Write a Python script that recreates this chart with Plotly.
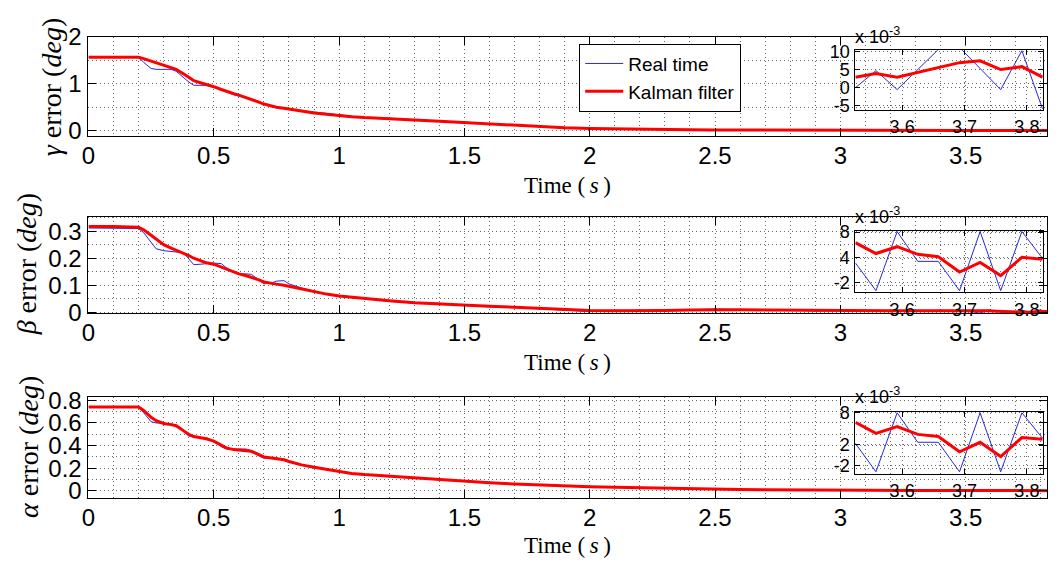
import plotly.graph_objects as go

W, H = 1060, 571

# ---------------- data ----------------
t_main = [0, 0.1, 0.2, 0.22, 0.25, 0.27, 0.3, 0.33, 0.35, 0.38, 0.4, 0.42, 0.45, 0.47, 0.5,
          0.53, 0.55, 0.58, 0.6, 0.63, 0.65, 0.68, 0.7, 0.73, 0.75, 0.78, 0.8, 0.85, 0.9, 0.95,
          1.0, 1.05, 1.1, 1.2, 1.3, 1.4, 1.5, 1.6, 1.7, 1.8, 1.9, 2.0, 2.1, 2.2, 2.3, 2.4, 2.5,
          2.6, 2.7, 2.8, 2.9, 3.0, 3.1, 3.2, 3.3, 3.4, 3.5]

gamma_kf = [1.57, 1.57, 1.57, 1.54, 1.49, 1.45, 1.40, 1.35, 1.31, 1.21, 1.13, 1.07, 1.02, 0.99, 0.94,
            0.88, 0.84, 0.79, 0.76, 0.71, 0.67, 0.61, 0.57, 0.53, 0.50, 0.48, 0.46, 0.42, 0.38, 0.35,
            0.32, 0.30, 0.28, 0.26, 0.23, 0.20, 0.17, 0.14, 0.11, 0.085, 0.065, 0.05, 0.04, 0.032,
            0.026, 0.021, 0.017, 0.014, 0.012, 0.010, 0.009, 0.008, 0.007, 0.006, 0.005, 0.004, 0.003]
gamma_real = [1.57, 1.57, 1.57, 1.46, 1.33, 1.31, 1.31, 1.31, 1.27, 1.13, 1.04, 0.97, 0.97, 0.97, 0.93,
              0.87, 0.82, 0.77, 0.74, 0.71, 0.68, 0.62, 0.57, 0.52, 0.50, 0.49, 0.47, 0.43, 0.40, 0.37,
              0.33, 0.30, 0.28, 0.265, 0.235, 0.20, 0.17, 0.14, 0.11, 0.085, 0.065, 0.05, 0.04, 0.032,
              0.026, 0.021, 0.017, 0.014, 0.012, 0.010, 0.009, 0.008, 0.007, 0.006, 0.005, 0.004, 0.003]

beta_kf = [0.318, 0.318, 0.315, 0.305, 0.285, 0.27, 0.25, 0.237, 0.23, 0.218, 0.21, 0.20, 0.19, 0.183,
           0.178, 0.168, 0.16, 0.15, 0.142, 0.135, 0.13, 0.12, 0.112, 0.106, 0.104, 0.10, 0.096, 0.085,
           0.075, 0.067, 0.06, 0.055, 0.05, 0.042, 0.035, 0.03, 0.026, 0.022, 0.018, 0.014, 0.010,
           0.006, 0.005, 0.005, 0.006, 0.008, 0.009, 0.009, 0.008, 0.007, 0.006, 0.005, 0.005, 0.005,
           0.005, 0.0055, 0.006]
beta_real = [0.312, 0.312, 0.31, 0.295, 0.26, 0.235, 0.228, 0.226, 0.224, 0.22, 0.198, 0.176, 0.178,
             0.18, 0.182, 0.18, 0.165, 0.148, 0.142, 0.142, 0.14, 0.12, 0.105, 0.108, 0.115, 0.117,
             0.105, 0.09, 0.078, 0.066, 0.062, 0.056, 0.052, 0.04, 0.036, 0.033, 0.025, 0.02, 0.018,
             0.012, 0.008, 0.002, 0.004, 0.004, 0.01, 0.009, 0.012, 0.01, 0.006, 0.008, 0.004, 0.006,
             0.004, 0.006, 0.003, 0.007, 0.004]

alpha_kf = [0.74, 0.74, 0.74, 0.71, 0.65, 0.62, 0.595, 0.585, 0.575, 0.53, 0.50, 0.48, 0.47, 0.46, 0.44,
            0.40, 0.38, 0.365, 0.36, 0.355, 0.35, 0.32, 0.30, 0.29, 0.285, 0.275, 0.26, 0.23, 0.21,
            0.19, 0.17, 0.155, 0.145, 0.13, 0.115, 0.10, 0.085, 0.072, 0.062, 0.052, 0.045, 0.038,
            0.032, 0.027, 0.023, 0.019, 0.016, 0.013, 0.011, 0.009, 0.008, 0.007, 0.006, 0.0055,
            0.005, 0.005, 0.005]
alpha_real = [0.74, 0.74, 0.74, 0.69, 0.61, 0.60, 0.595, 0.59, 0.58, 0.52, 0.485, 0.475, 0.475, 0.47,
              0.44, 0.39, 0.37, 0.365, 0.37, 0.37, 0.355, 0.31, 0.29, 0.29, 0.29, 0.28, 0.265, 0.23,
              0.215, 0.19, 0.17, 0.155, 0.145, 0.13, 0.115, 0.10, 0.085, 0.072, 0.062, 0.052, 0.045,
              0.038, 0.032, 0.027, 0.023, 0.019, 0.016, 0.013, 0.011, 0.009, 0.008, 0.007, 0.006,
              0.0055, 0.005, 0.005, 0.005]

# last samples (shown magnified in the insets, units of 1e-3 deg)
t_tail = [3.525, 3.558, 3.592, 3.625, 3.658, 3.692, 3.725, 3.758, 3.792, 3.825]
gamma_kf_tail = [2.9, 3.9, 2.9, 4.2, 5.6, 6.9, 7.4, 5.0, 5.8, 2.9]
gamma_real_tail = [0.0, 4.7, -0.5, 4.9, 10.5, 11.1, 5.3, -0.5, 10.2, -5.8]
beta_kf_tail = [5.9, 3.75, 5.1, 3.6, 3.1, 0.1, 2.0, -0.6, 3.0, 2.6]
beta_real_tail = [1.9, -3.6, 8.1, 2.2, 2.2, -3.6, 8.1, -3.6, 8.1, 2.8]
alpha_kf_tail = [6.2, 4.1, 5.4, 3.9, 3.5, 0.6, 2.4, -0.3, 3.3, 3.0]
alpha_real_tail = [2.2, -3.2, 8.0, 2.4, 2.4, -3.2, 8.0, -3.2, 8.0, 3.2]

inset_x_ticks = [3.6, 3.7, 3.8]
inset_y_tickvals = [[-5, 0, 5, 10], [-2, 3, 8], [-2, 2, 8]]
inset_y_ticktext = [["-5", "0", "5", "10"], ["-2", "4", "8"], ["-2", "2", "8"]]
y_titles = ["<i>γ</i> error (<i>deg</i>)", "<i>β</i> error (<i>deg</i>)", "<i>α</i> error (<i>deg</i>)"]
x_title = "Time (\u2009<i>s</i>\u2009)"
legend_names = ["Real time", "Kalman filter"]

for arr in (gamma_kf, gamma_real, beta_kf, beta_real, alpha_kf, alpha_real):
    assert len(arr) == len(t_main)

# ---------------- style ----------------
SANS = "Liberation Sans, Arial, sans-serif"
SERIF = "Liberation Serif, Times New Roman, serif"
BLUE = "rgb(40,40,215)"
RED = "#ff0000"
GRIDC = "#6a6a6a"
GRIDDASH = "1px,3px"


def fx(p):
    return p / W


def fy(p):
    return 1 - p / H


main_x_dom = [fx(82), fx(1047)]
main_y_dom = [[fy(129), fy(25)], [fy(314), fy(213)], [fy(507), fy(402)]]
main_y_range = [[-0.12, 2.003], [-0.004, 0.354], [-0.06, 0.825]]
main_y_dtick = [1, 0.1, 0.2]
main_y_minor = [0.5, 0.05, 0.1]

inset_x_dom = [fx(854), fx(1043)]
inset_y_dom = [[fy(101), fy(39)], [fy(292), fy(228)], [fy(482), fy(417)]]
inset_y_range = [[-6.0, 10.3], [-3.9, 8.2], [-3.6, 8.2]]

fig = go.Figure()

series = [
    (gamma_real, gamma_kf, gamma_real_tail, gamma_kf_tail),
    (beta_real, beta_kf, beta_real_tail, beta_kf_tail),
    (alpha_real, alpha_kf, alpha_real_tail, alpha_kf_tail),
]

for i, (real, kf, real_tail, kf_tail) in enumerate(series):
    mx = "x" if i == 0 else f"x{i + 1}"
    my = "y" if i == 0 else f"y{i + 1}"
    ix, iy = f"x{i + 4}", f"y{i + 4}"
    tx = t_main + t_tail
    fig.add_trace(go.Scatter(x=tx, y=real + [v * 1e-3 for v in real_tail], mode="lines",
                             line=dict(color=BLUE, width=1), name=legend_names[0],
                             showlegend=(i == 0), xaxis=mx, yaxis=my))
    fig.add_trace(go.Scatter(x=tx, y=kf + [v * 1e-3 for v in kf_tail], mode="lines",
                             line=dict(color=RED, width=3), name=legend_names[1],
                             showlegend=(i == 0), xaxis=mx, yaxis=my))
    fig.add_trace(go.Scatter(x=t_tail, y=real_tail, mode="lines",
                             line=dict(color=BLUE, width=1), showlegend=False, xaxis=ix, yaxis=iy))
    fig.add_trace(go.Scatter(x=t_tail, y=kf_tail, mode="lines",
                             line=dict(color=RED, width=3), showlegend=False, xaxis=ix, yaxis=iy))

layout = {}
common = dict(ticks="inside", tickcolor="black", showline=True, linecolor="black", linewidth=1,
              mirror="ticks", zeroline=False, showgrid=True, gridcolor=GRIDC, griddash=GRIDDASH,
              gridwidth=1)

for i in range(3):
    xk = "xaxis" if i == 0 else f"xaxis{i + 1}"
    yk = "yaxis" if i == 0 else f"yaxis{i + 1}"
    yname = "y" if i == 0 else f"y{i + 1}"
    xname = "x" if i == 0 else f"x{i + 1}"
    layout[xk] = dict(common, domain=main_x_dom, range=[0, 3.825], anchor=yname,
                      tick0=0, dtick=0.5, ticklen=8,
                      minor=dict(tick0=0, dtick=0.1, showgrid=True, gridcolor=GRIDC,
                                 griddash=GRIDDASH, gridwidth=1, ticks=""),
                      tickfont=dict(family=SANS, size=24, color="black"),
                      ticklabelstandoff=-2)
    layout[yk] = dict(common, domain=main_y_dom[i], range=main_y_range[i], anchor=xname,
                      tick0=0, dtick=main_y_dtick[i], ticklen=8,
                      minor=dict(tick0=0, dtick=main_y_minor[i], showgrid=True, gridcolor=GRIDC,
                                 griddash=GRIDDASH, gridwidth=1, ticks=""),
                      tickfont=dict(family=SANS, size=24, color="black"),
                      ticklabelstandoff=1)
    ixk, iyk = f"xaxis{i + 4}", f"yaxis{i + 4}"
    layout[ixk] = dict(common, domain=inset_x_dom, range=[3.525, 3.826], anchor=f"y{i + 4}",
                       tickvals=inset_x_ticks, ticktext=[str(v) for v in inset_x_ticks], ticklen=5,
                       tickfont=dict(family=SANS, size=18, color="black"), ticklabelstandoff=1)
    layout[iyk] = dict(common, domain=inset_y_dom[i], range=inset_y_range[i], anchor=f"x{i + 4}",
                       tickvals=inset_y_tickvals[i], ticktext=inset_y_ticktext[i],
                       ticklen=5, tickfont=dict(family=SANS, size=18, color="black"),
                       ticklabelstandoff=1)

annotations = []
ytitle_pos = [(45, 77), (20, 263), (21, 454)]
xtitle_y = [180, 366, 557]
xpow_y = [24, 212, 400]
for i in range(3):
    annotations.append(dict(text=y_titles[i], x=fx(ytitle_pos[i][0]), y=fy(ytitle_pos[i][1]),
                            xref="paper", yref="paper", showarrow=False, textangle=-90,
                            xanchor="center", yanchor="middle",
                            font=dict(family=SERIF, size=28, color="black")))
    annotations.append(dict(text=x_title, x=fx(564), y=fy(xtitle_y[i]),
                            xref="paper", yref="paper", showarrow=False,
                            xanchor="center", yanchor="middle",
                            font=dict(family=SERIF, size=23, color="black")))
    annotations.append(dict(text="x 10<sup>-3</sup>", x=fx(852), y=fy(xpow_y[i]),
                            xref="paper", yref="paper", showarrow=False,
                            xanchor="left", yanchor="middle",
                            font=dict(family=SANS, size=18, color="black")))

fig.update_layout(
    width=W, height=H, autosize=False,
    margin=dict(l=0, r=0, t=0, b=0),
    paper_bgcolor="white", plot_bgcolor="rgba(0,0,0,0)",
    showlegend=True,
    legend=dict(x=fx(576), y=fy(32), xanchor="left", yanchor="top", bgcolor="white",
                bordercolor="black", borderwidth=1, itemwidth=38,
                font=dict(family=SANS, size=19, color="black")),
    annotations=annotations,
    **layout,
)

fig.write_html("out.html")
